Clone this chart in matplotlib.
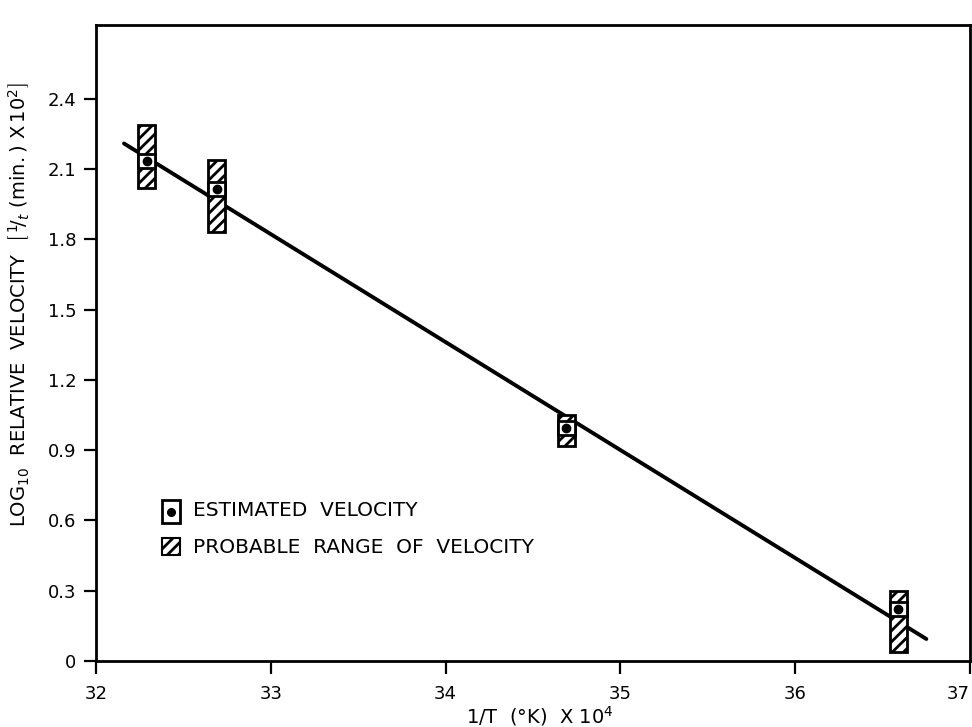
import matplotlib.pyplot as plt
from matplotlib.patches import Rectangle
import numpy as np

plt.rcParams['font.family'] = 'DejaVu Sans'
plt.rcParams['hatch.linewidth'] = 2.0

# measured points: 1/T x 10^4, estimated log10 velocity, probable range
inv_t = [32.29, 32.69, 34.69, 36.59]
log_vel = [2.135, 2.015, 0.995, 0.22]
range_low = [2.02, 1.83, 0.92, 0.04]
range_high = [2.29, 2.14, 1.05, 0.30]

# fitted straight line end points
fit_x = [32.16, 36.75]
fit_y = [2.21, 0.094]

x_ticks = [32, 33, 34, 35, 36, 37]
y_ticks = [0, 0.3, 0.6, 0.9, 1.2, 1.5, 1.8, 2.1, 2.4]
y_tick_labels = ['0', '0.3', '0.6', '0.9', '1.2', '1.5', '1.8', '2.1', '2.4']

fig = plt.figure(figsize=(9.72, 7.27), dpi=100)
ax = fig.add_axes([0.0988, 0.0908, 0.8992, 0.8748])

ax.plot(fit_x, fit_y, color='black', lw=2.8, solid_capstyle='round', zorder=2)

box_w = 0.095
sq_h = 0.03
for x, y, lo, hi in zip(inv_t, log_vel, range_low, range_high):
    ax.add_patch(Rectangle((x - box_w / 2, lo), box_w, hi - lo, facecolor='white',
                           edgecolor='black', hatch='///', lw=2, zorder=3))
    ax.add_patch(Rectangle((x - box_w / 2, y - sq_h), box_w, 2 * sq_h, facecolor='white',
                           edgecolor='black', lw=2, zorder=4))
    ax.plot(x, y, 'o', color='black', ms=6, zorder=5)

ax.set_xlim(32, 37)
ax.set_ylim(0, 2.716)
ax.set_xticks(x_ticks)
ax.set_yticks(y_ticks)
ax.set_yticklabels(y_tick_labels)
ax.tick_params(direction='out', length=9, width=1.6, labelsize=13, colors='black', pad=5)
ax.tick_params(axis='x', pad=8)
ax.get_xticklabels()[-1].set_horizontalalignment('right')
for s in ax.spines.values():
    s.set_linewidth(2)

ax.set_xlabel('1/T  (°K)  X 10$^4$', fontsize=14)
ax.xaxis.set_label_coords(0.508, -0.068)
ax.set_ylabel('LOG$_{10}$  RELATIVE  VELOCITY  '
              r'$\left[\,{}^{1}\!/_{t}\ \mathrm{(min.)}\ \mathrm{X}\,10^{2}\right]$',
              fontsize=14)
ax.yaxis.set_label_coords(-0.074, 0.56)

# hand-drawn legend
lx, lw_ = 0.076, 0.020
ax.add_patch(Rectangle((lx, 0.217), lw_, 0.036, transform=ax.transAxes, facecolor='white',
                       edgecolor='black', lw=2, zorder=4))
ax.plot(lx + lw_ / 2, 0.235, 'o', color='black', ms=5.5, transform=ax.transAxes, zorder=5)
ax.add_patch(Rectangle((lx, 0.166), lw_, 0.027, transform=ax.transAxes, facecolor='white',
                       edgecolor='black', hatch='///', lw=1.5, zorder=4))
ax.text(0.111, 0.236, 'ESTIMATED  VELOCITY', transform=ax.transAxes, fontsize=14.5,
        va='center')
ax.text(0.111, 0.179, 'PROBABLE  RANGE  OF  VELOCITY', transform=ax.transAxes, fontsize=14.5,
        va='center')

fig.savefig('out.png', dpi=100)
